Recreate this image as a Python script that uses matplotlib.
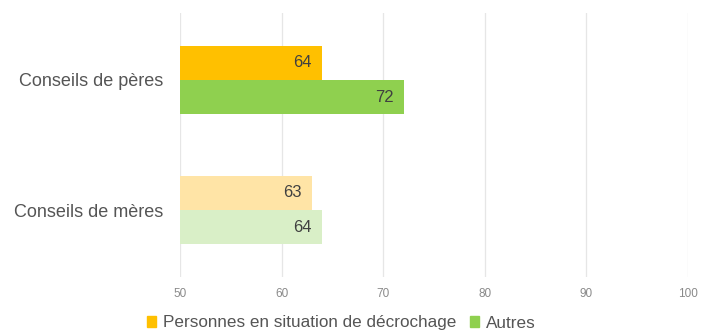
import matplotlib

matplotlib.use("Agg")
import matplotlib.pyplot as plt
import numpy as np
from matplotlib.patches import Patch

plt.rcParams["font.family"] = ["Liberation Sans", "DejaVu Sans"]

categories = ["Conseils de pères", "Conseils de mères"]
decrochage = [64, 63]
autres = [72, 64]
series_names = ["Personnes en situation de décrochage", "Autres"]
x_ticks = [50, 60, 70, 80, 90, 100]

# strong colours for the fathers row, faded ones for the mothers row
orange = ["#FFC000", "#FFE4A6"]
green = ["#8FD04F", "#D9EFC7"]

fig = plt.figure(figsize=(7.04, 3.36), dpi=100)
ax = fig.add_axes([180 / 704, 1 - 277 / 336, 508 / 704, 264 / 336])

y = np.arange(len(categories))
h = 0.265
bars_a = ax.barh(y - h / 2, [v - 50 for v in decrochage], left=50, height=h, color=orange)
bars_b = ax.barh(y + h / 2, [v - 50 for v in autres], left=50, height=h, color=green)

for bars, vals in ((bars_a, decrochage), (bars_b, autres)):
    for bar, v in zip(bars, vals):
        ax.text(v - 1.0, bar.get_y() + bar.get_height() / 2, str(v),
                ha="right", va="center", fontsize=12, color="#404040")

ax.set_xlim(50, 100)
ax.set_ylim(2.03 - 0.515, -0.515)
ax.set_xticks(x_ticks)
ax.set_xticklabels([str(t) for t in x_ticks], fontsize=8.5, color="#8a8a8a")
ax.set_yticks(y)
ax.set_yticklabels(categories, fontsize=13, color="#555555")
ax.tick_params(axis="both", length=0)
ax.tick_params(axis="x", pad=8)
ax.tick_params(axis="y", pad=12)
ax.grid(axis="x", color="#e6e6e6", linewidth=0.9)
ax.set_axisbelow(True)
for s in ax.spines.values():
    s.set_visible(False)

handles = [Patch(color=orange[0]), Patch(color=green[0])]
fig.legend(handles, series_names, loc="center", bbox_to_anchor=(0.485, 1 - 323 / 336),
           ncol=2, frameon=False, fontsize=12.3, handlelength=0.55, handleheight=0.55,
           handletextpad=0.4, columnspacing=0.8, labelcolor="#555555")

fig.savefig("out.png", dpi=100)
